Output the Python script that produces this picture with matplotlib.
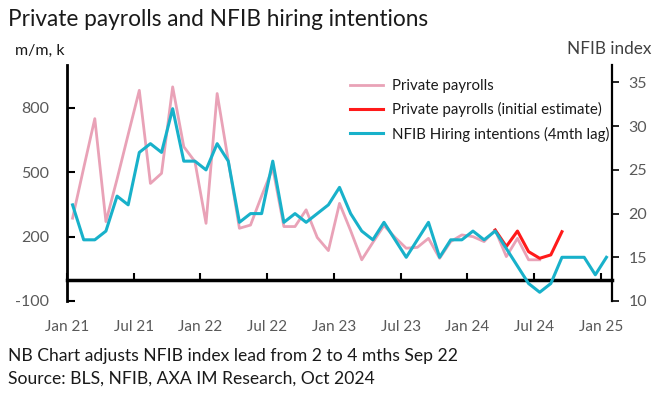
import matplotlib
matplotlib.use("Agg")
import matplotlib.pyplot as plt

# ---- data (month index 0 = Jan 2021) ----
tick_positions = [0, 6, 12, 18, 24, 30, 36, 42, 48]
tick_labels = ["Jan 21", "Jul 21", "Jan 22", "Jul 22", "Jan 23",
               "Jul 23", "Jan 24", "Jul 24", "Jan 25"]

# Private payrolls (revised), Jan 21 .. Jul 24, m/m k
payrolls = [286, 520, 750, 270, 468, 676, 882, 448, 495, 898,
            619, 550, 262, 867, 554, 239, 254, 390, 520, 247,
            247, 325, 196, 135, 355, 228, 92, 173, 252, 196,
            146, 150, 192, 99, 177, 208, 200, 177, 231, 107,
            192, 92, 92]

# Private payrolls initial estimate, Mar 24 .. Sep 24
initial_months = [38, 39, 40, 41, 42, 43, 44]
payrolls_initial = [231, 154, 226, 130, 99, 115, 223]

# NFIB hiring intentions (4mth lag), Jan 21 .. Jan 25
nfib = [21, 17, 17, 18, 22, 21, 27, 28, 27, 32,
        26, 26, 25, 28, 26, 19, 20, 20, 26, 19,
        20, 19, 20, 21, 23, 20, 18, 17, 19, 17,
        15, 17, 19, 15, 17, 17, 18, 17, 18, 16,
        14, 12, 11, 12, 15, 15, 15, 13, 15]

left_ticks = [-100, 200, 500, 800]
right_ticks = [10, 15, 20, 25, 30, 35]

PINK = "#E9A2B7"
RED = "#FF1A1A"
CYAN = "#18B1CA"
GRAY = "#595959"
DARK = "#1a1a1a"

plt.rcParams['font.family'] = ['Lato', 'DejaVu Sans']

W, H = 655, 393
fig = plt.figure(figsize=(W / 100, H / 100), dpi=100)
ax = fig.add_axes([67 / W, 1 - 301 / H, (612 - 67) / W, (301 - 65) / H])
ax2 = ax.twinx()

x_pay = [m + 0.5 for m in range(len(payrolls))]
x_init = [m + 0.5 for m in initial_months]
x_nfib = [m + 0.5 for m in range(len(nfib))]

l1, = ax.plot(x_pay, payrolls, color=PINK, lw=2.0, solid_joinstyle='round')
l2, = ax.plot(x_init, payrolls_initial, color=RED, lw=2.2, solid_joinstyle='round')
l3, = ax2.plot(x_nfib, nfib, color=CYAN, lw=2.2, solid_joinstyle='round')

ax.set_xlim(0, 49)
ax.set_ylim(-100, 1000)
ax2.set_ylim(10, 37)

# spines
for s in ['top', 'right']:
    ax.spines[s].set_visible(False)
ax.spines['left'].set_linewidth(2.0)
ax.spines['bottom'].set_position(('data', 0))
ax.spines['bottom'].set_linewidth(2.5)
for s in ['top', 'left', 'bottom']:
    ax2.spines[s].set_visible(False)
ax2.spines['right'].set_linewidth(1.6)

ax.set_yticks(left_ticks)
ax.set_yticklabels([str(v) for v in left_ticks])
ax.tick_params(axis='y', direction='in', length=6, width=1.5,
               pad=13, labelsize=11.5, labelcolor=GRAY)
ax2.set_yticks(right_ticks)
ax2.tick_params(axis='y', direction='out', length=5, width=1.2,
                pad=7, labelsize=11.5, labelcolor=GRAY)

ax.set_xticks(tick_positions)
ax.set_xticklabels(tick_labels)
ax.tick_params(axis='x', direction='in', length=5, width=1.5,
               pad=29, labelsize=11, labelcolor=GRAY)

# texts
fig.text(8 / W, 1 - 26.5 / H, "Private payrolls and NFIB hiring intentions",
         fontsize=16.3, va='baseline', ha='left', color=DARK)
fig.text(15 / W, 1 - 55 / H, "m/m, k", fontsize=11.5, va='baseline',
         ha='left', color=DARK)
fig.text(651 / W, 1 - 54 / H, "NFIB index", fontsize=12.3, va='baseline',
         ha='right', color='#404040')
fig.text(8 / W, 1 - 361 / H,
         "NB Chart adjusts NFIB index lead from 2 to 4 mths Sep 22",
         fontsize=12.6, va='baseline', ha='left', color=DARK)
fig.text(8 / W, 1 - 384 / H, "Source: BLS, NFIB, AXA IM Research, Oct 2024",
         fontsize=12.6, va='baseline', ha='left', color=DARK)

fig.legend([l1, l2, l3],
           ["Private payrolls", "Private payrolls (initial estimate)",
            "NFIB Hiring intentions (4mth lag)"],
           loc='upper left', bbox_to_anchor=(350 / W, 1 - 79 / H),
           frameon=False, fontsize=10.8, handlelength=2.2,
           handletextpad=0.6, labelspacing=0.62, borderpad=0,
           borderaxespad=0, labelcolor=DARK)

fig.savefig("out.png", dpi=100)
